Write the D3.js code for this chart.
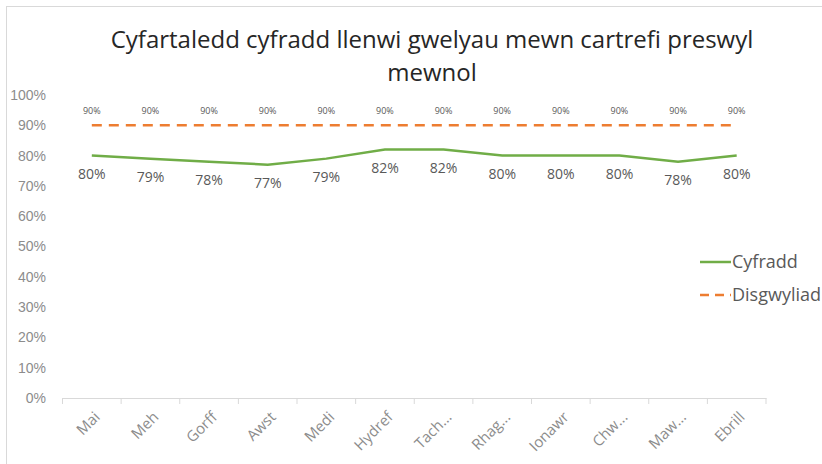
<!DOCTYPE html>
<html><head><meta charset="utf-8">
<script src="https://cdn.jsdelivr.net/npm/d3@7"></script>
<style>body{margin:0;background:#fff}svg{display:block;font-family:"Open Sans","Noto Sans",sans-serif}</style>
</head><body><svg id="c" width="822" height="464"></svg>
<script>
const categories = ["Mai","Meh","Gorff","Awst","Medi","Hydref","Tach...","Rhag...","Ionawr","Chw...","Maw...","Ebrill"];
const cyfradd = [80,79,78,77,79,82,82,80,80,80,78,80];
const disgwyliad = [90,90,90,90,90,90,90,90,90,90,90,90];
const yTicks = [0,10,20,30,40,50,60,70,80,90,100];
const seriesNames = ["Cyfradd","Disgwyliad"];
const title = ["Cyfartaledd cyfradd llenwi gwelyau mewn cartrefi preswyl","mewnol"];

const svg = d3.select("#c");
svg.append("rect").attr("x",6.5).attr("y",6.5).attr("width",830).attr("height",480)
  .attr("fill","#fff").attr("stroke","#d9d9d9");

const x = d3.scaleBand().domain(categories).range([62.5,766]);
const y = d3.scaleLinear().domain([0,100]).range([398,95]);
const cx = d => x(d) + x.bandwidth()/2;

// title
svg.append("text").attr("x",432).attr("y",48).attr("text-anchor","middle")
  .attr("font-size",24).attr("fill","#262626")
  .selectAll("tspan").data(title).join("tspan")
  .attr("x",432).attr("dy",(d,i)=>i?33:0).text(d=>d);

// y axis labels
const ya = svg.append("g").attr("transform","translate(46,0)")
  .call(d3.axisLeft(y).tickValues(yTicks).tickFormat(d=>d+"%").tickSize(0).tickPadding(0));
ya.select(".domain").remove();
ya.selectAll("text").attr("font-size",14).attr("fill","#8c8c8c").attr("font-family","inherit");

// x axis
const xa = svg.append("g").attr("transform","translate(0,398)")
  .call(d3.axisBottom(x).tickSize(0).tickFormat(""));
xa.select(".domain").attr("stroke","#d9d9d9");
const edges = categories.map(c=>x(c)).concat([x.range()[1]]);
svg.append("g").selectAll("line").data(edges).join("line")
  .attr("x1",d=>d).attr("x2",d=>d).attr("y1",398).attr("y2",404).attr("stroke","#d9d9d9");
svg.append("g").selectAll("text").data(categories).join("text")
  .attr("transform",d=>`translate(${cx(d)+9},${418}) rotate(-45)`)
  .attr("text-anchor","end").attr("font-size",15).attr("fill","#8c8c8c").text(d=>d);

// lines
const line = d3.line().x((d,i)=>cx(categories[i])).y(d=>y(d));
svg.append("path").datum(disgwyliad).attr("d",line).attr("fill","none")
  .attr("stroke","#ED7D31").attr("stroke-width",2.5).attr("stroke-dasharray","10,7");
svg.append("path").datum(cyfradd).attr("d",line).attr("fill","none")
  .attr("stroke","#70AD47").attr("stroke-width",2.5);

// labels
svg.append("g").selectAll("text").data(disgwyliad).join("text")
  .attr("x",(d,i)=>cx(categories[i])).attr("y",d=>y(d)-11).attr("text-anchor","middle")
  .attr("font-size",9).attr("fill","#595959").text(d=>d+"%");
svg.append("g").selectAll("text").data(cyfradd).join("text")
  .attr("x",(d,i)=>cx(categories[i])).attr("y",d=>y(d)+23).attr("text-anchor","middle")
  .attr("font-size",14).attr("fill","#595959").text(d=>d+"%");

// legend
const lg = svg.append("g");
const leg = [{n:seriesNames[0],c:"#70AD47",dash:null,y:262},{n:seriesNames[1],c:"#ED7D31",dash:"9,6",y:295}];
leg.forEach(l=>{
  lg.append("line").attr("x1",700).attr("x2",731).attr("y1",l.y).attr("y2",l.y)
    .attr("stroke",l.c).attr("stroke-width",2.5).attr("stroke-dasharray",l.dash);
  lg.append("text").attr("x",732).attr("y",l.y+6).attr("font-size",18).attr("fill","#595959").text(l.n);
});
</script></body></html>
